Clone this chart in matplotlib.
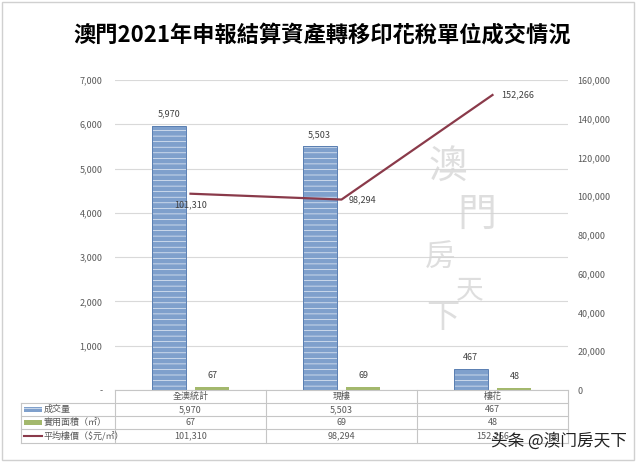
import matplotlib
matplotlib.use("Agg")
import matplotlib.pyplot as plt
from matplotlib.patches import Rectangle
from matplotlib.lines import Line2D
import numpy as np

plt.rcParams['font.family'] = ['Noto Sans CJK TC', 'DejaVu Sans']
plt.rcParams['hatch.linewidth'] = 0.5

# 數據
categories = ['全澳統計', '現樓', '樓花']
volume = [5970, 5503, 467]
area = [67, 69, 48]
price = [101310, 98294, 152266]
series_names = ['成交量', '實用面積（㎡）', '平均樓價（$元/㎡）']
title = '澳門2021年申報結算資產轉移印花稅單位成交情況'

W, H = 640, 463
fig = plt.figure(figsize=(W / 100, H / 100), dpi=100)


def fx(px):
    return px / W


def fy(py):
    return 1 - py / H


blue = '#7fa0cc'
blue_edge = '#5a7fb2'
green = '#a3b86c'
red = '#8a3a4a'
grey_txt = '#595959'
grid_c = '#d9d9d9'

# 外框
fig.patches.append(Rectangle((fx(2), fy(460)), fx(632), 458 / H, transform=fig.transFigure,
                             fill=False, edgecolor='#d0d0d0', linewidth=1))

fig.text(fx(322), fy(35), title, ha='center', va='center', fontsize=16, fontweight='bold')

ax = fig.add_axes([fx(115), fy(390), fx(453), 310 / H])
x = np.arange(len(categories))
bw = 0.225
off = 0.145

ax.bar(x - off, volume, bw, color=blue, edgecolor='#e8eef7', hatch='---', linewidth=0, zorder=2)
ax.bar(x - off, volume, bw, fill=False, edgecolor=blue_edge, linewidth=0.7, zorder=3)
ax.bar(x + off, area, bw, color=green, linewidth=0, zorder=2)

for i in range(len(categories)):
    ax.annotate(f'{volume[i]:,}', (x[i] - off, volume[i]), xytext=(0, 5), textcoords='offset points',
                ha='center', va='bottom', fontsize=6.5, color='#404040')
    ax.annotate(f'{area[i]:,}', (x[i] + off, area[i]), xytext=(0, 5), textcoords='offset points',
                ha='center', va='bottom', fontsize=6.5, color='#404040')

ax.set_xlim(-0.5, 2.5)
ax.set_ylim(0, 7000)
ax.set_yticks(np.arange(0, 7001, 1000))
ax.set_yticklabels(['-'] + [f'{v:,}' for v in range(1000, 7001, 1000)])
ax.set_xticks([])
ax.tick_params(axis='y', length=0, labelsize=6.5, labelcolor=grey_txt, pad=9)
ax.yaxis.grid(True, color=grid_c, linewidth=0.8, zorder=0)
ax.set_axisbelow(True)
for s in ax.spines.values():
    s.set_visible(False)

ax2 = ax.twinx()
ax2.set_ylim(0, 160000)
ax2.set_yticks(np.arange(0, 160001, 20000))
ax2.set_yticklabels([f'{v:,}' for v in range(0, 160001, 20000)])
ax2.tick_params(axis='y', length=0, labelsize=6.5, labelcolor=grey_txt, pad=7)
for s in ax2.spines.values():
    s.set_visible(False)
ax2.plot(x, price, color=red, linewidth=1.6, zorder=4)
ax2.annotate(f'{price[0]:,}', (x[0], price[0]), xytext=(0, -5), textcoords='offset points',
             ha='center', va='top', fontsize=6.5, color='#404040')
ax2.annotate(f'{price[1]:,}', (x[1], price[1]), xytext=(5, 0), textcoords='offset points',
             ha='left', va='center', fontsize=6.5, color='#404040')
ax2.annotate(f'{price[2]:,}', (x[2], price[2]), xytext=(6, 0), textcoords='offset points',
             ha='left', va='center', fontsize=6.5, color='#404040')

# 水印
wm = [('澳', 448, 168, 28), ('門', 477, 215, 28), ('房', 440, 258, 22), ('天', 470, 290, 20), ('下', 443, 318, 24)]
for ch, px, py, fs in wm:
    fig.text(fx(px), fy(py), ch, ha='center', va='center', fontsize=fs, color='#d4d4d4', alpha=0.75)

# 數據表
tab_l, tab_r = 21, 568
col_x = [115, 266, 417, 568]
row_y = [390, 403, 416, 429, 443]
lc = '#c6c6c6'


def hline(y, x0, x1):
    fig.add_artist(Line2D([fx(x0), fx(x1)], [fy(y), fy(y)], transform=fig.transFigure, color=lc, linewidth=0.8))


def vline(xp, y0, y1):
    fig.add_artist(Line2D([fx(xp), fx(xp)], [fy(y0), fy(y1)], transform=fig.transFigure, color=lc, linewidth=0.8))


hline(row_y[0], col_x[0], col_x[-1])
for y in row_y[1:]:
    hline(y, tab_l, tab_r)
vline(tab_l, row_y[1], row_y[-1])
for xp in col_x:
    vline(xp, row_y[0], row_y[-1])

for j, c in enumerate(categories):
    fig.text(fx((col_x[j] + col_x[j + 1]) / 2), fy((row_y[0] + row_y[1]) / 2), c,
             ha='center', va='center', fontsize=6.5, color=grey_txt)

rows = [volume, area, price]
for r, vals in enumerate(rows):
    yc = (row_y[r + 1] + row_y[r + 2]) / 2
    for j, v in enumerate(vals):
        fig.text(fx((col_x[j] + col_x[j + 1]) / 2), fy(yc), f'{v:,}',
                 ha='center', va='center', fontsize=6.5, color=grey_txt)
    fig.text(fx(44), fy(yc), series_names[r], ha='left', va='center', fontsize=6.5, color=grey_txt)

# 圖例標記
y0 = (row_y[1] + row_y[2]) / 2
fig.patches.append(Rectangle((fx(24), fy(y0 + 2.5)), fx(18), 5 / H, transform=fig.transFigure,
                             facecolor=blue, edgecolor='#e8eef7', hatch='---', linewidth=0))
y1 = (row_y[2] + row_y[3]) / 2
fig.patches.append(Rectangle((fx(24), fy(y1 + 2.5)), fx(18), 5 / H, transform=fig.transFigure,
                             facecolor=green, linewidth=0))
y2 = (row_y[3] + row_y[4]) / 2
fig.add_artist(Line2D([fx(24), fx(42)], [fy(y2), fy(y2)], transform=fig.transFigure, color=red, linewidth=1.5))

fig.text(fx(627), fy(441), '头条 @澳门房天下', ha='right', va='center', fontsize=12, color='#222222')

fig.savefig('out.png', dpi=100)
